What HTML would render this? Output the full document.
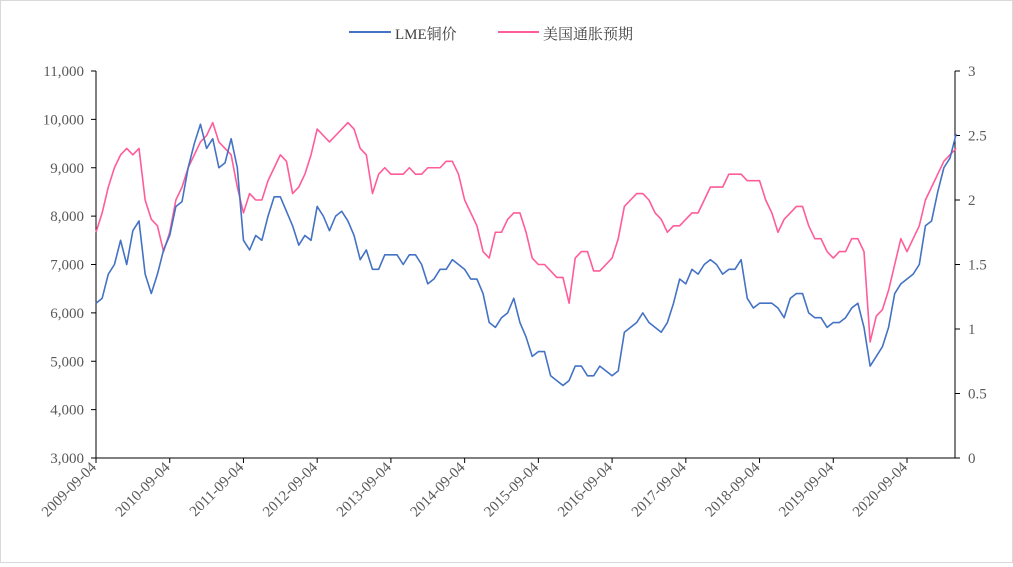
<!DOCTYPE html>
<html><head><meta charset="utf-8"><style>
body{margin:0;background:#fff}
#c{width:1011px;height:561px;border:1px solid #d9d9d9;position:relative;font-family:"Liberation Serif","Noto Serif CJK SC",serif}
text{font-family:"Liberation Serif","Noto Serif CJK SC",serif;fill:#595959;font-size:15px}
</style></head><body>
<div id="c">
<svg id="s" width="1011" height="561"></svg>
</div>
<script>
const startYear=2009,startMonth=9;
const xTickLabels=["2009-09-04","2010-09-04","2011-09-04","2012-09-04","2013-09-04","2014-09-04","2015-09-04","2016-09-04","2017-09-04","2018-09-04","2019-09-04","2020-09-04"];
const leftTicks=[3000,4000,5000,6000,7000,8000,9000,10000,11000];
const rightTicks=[0,0.5,1,1.5,2,2.5,3];
const copper=[6200,6300,6800,7000,
7500,7000,7700,7900,6800,6400,6800,7300,7600,8200,8300,9000,
9500,9900,9400,9600,9000,9100,9600,9000,7500,7300,7600,7500,
8000,8400,8400,8100,7800,7400,7600,7500,8200,8000,7700,8000,
8100,7900,7600,7100,7300,6900,6900,7200,7200,7200,7000,7200,
7200,7000,6600,6700,6900,6900,7100,7000,6900,6700,6700,6400,
5800,5700,5900,6000,6300,5800,5500,5100,5200,5200,4700,4600,
4500,4600,4900,4900,4700,4700,4900,4800,4700,4800,5600,5700,
5800,6000,5800,5700,5600,5800,6200,6700,6600,6900,6800,7000,
7100,7000,6800,6900,6900,7100,6300,6100,6200,6200,6200,6100,
5900,6300,6400,6400,6000,5900,5900,5700,5800,5800,5900,6100,
6200,5700,4900,5100,5300,5700,6400,6600,6700,6800,7000,7800,
7900,8500,9000,9200,9700];
const inflation=[1.75,1.9,2.1,2.25,
2.35,2.4,2.35,2.4,2.0,1.85,1.8,1.6,1.75,2.0,2.1,2.25,
2.35,2.45,2.5,2.6,2.45,2.4,2.35,2.1,1.9,2.05,2.0,2.0,
2.15,2.25,2.35,2.3,2.05,2.1,2.2,2.35,2.55,2.5,2.45,2.5,
2.55,2.6,2.55,2.4,2.35,2.05,2.2,2.25,2.2,2.2,2.2,2.25,
2.2,2.2,2.25,2.25,2.25,2.3,2.3,2.2,2.0,1.9,1.8,1.6,
1.55,1.75,1.75,1.85,1.9,1.9,1.75,1.55,1.5,1.5,1.45,1.4,
1.4,1.2,1.55,1.6,1.6,1.45,1.45,1.5,1.55,1.7,1.95,2.0,
2.05,2.05,2.0,1.9,1.85,1.75,1.8,1.8,1.85,1.9,1.9,2.0,
2.1,2.1,2.1,2.2,2.2,2.2,2.15,2.15,2.15,2.0,1.9,1.75,
1.85,1.9,1.95,1.95,1.8,1.7,1.7,1.6,1.55,1.6,1.6,1.7,
1.7,1.6,0.9,1.1,1.15,1.3,1.5,1.7,1.6,1.7,1.8,2.0,
2.1,2.2,2.3,2.35,2.4];
const X0=95,X1=954,Y0=457,Y1=70,monthPx=(906-95)/132;
const x=i=>X0+i*monthPx;
const yL=v=>Y0-(v-3000)/8000*(Y0-Y1);
const yR=v=>Y0-v/3*(Y0-Y1);
const s=document.getElementById('s'),NS='http://www.w3.org/2000/svg';
function mk(t,a,txt){const e=document.createElementNS(NS,t);for(const k in a)e.setAttribute(k,a[k]);if(txt!==undefined)e.textContent=txt;s.appendChild(e);return e;}
let e;
e=mk('line',{x1:X0,y1:Y1,x2:X0,y2:Y0,stroke:'#000','stroke-width':1});


e=mk('line',{x1:X1,y1:Y1,x2:X1,y2:Y0,stroke:'#000','stroke-width':1});


e=mk('line',{x1:X0,y1:Y0,x2:X1,y2:Y0,stroke:'#000','stroke-width':1});


leftTicks.forEach(v=>{const y=yL(v);
mk('line',{x1:X0-5,y1:y,x2:X0,y2:y,stroke:'#000'});
e=mk('text',{x:X0-12,y:y+5,'text-anchor':'end'},v.toLocaleString('en-US'));

});
rightTicks.forEach(v=>{const y=yR(v);
mk('line',{x1:X1,y1:y,x2:X1+5,y2:y,stroke:'#000'});
e=mk('text',{x:X1+13,y:y+5,'text-anchor':'start'},String(v));

});
xTickLabels.forEach((l,i)=>{const xx=x(i*12);
mk('line',{x1:xx,y1:Y0,x2:xx,y2:Y0+5,stroke:'#000'});
e=mk('text',{x:xx+1,y:Y0+10,'text-anchor':'end',transform:`rotate(-45 ${xx+1} ${Y0+10})`},l);

});
e=mk('polyline',{points:inflation.map((v,i)=>x(i)+','+yR(v)).join(' '),fill:'none',stroke:'#ff5c9a','stroke-width':1.6,'stroke-linejoin':'round'});


e=mk('polyline',{points:copper.map((v,i)=>x(i)+','+yL(v)).join(' '),fill:'none',stroke:'#4472c4','stroke-width':1.6,'stroke-linejoin':'round'});


mk('line',{x1:348,y1:31,x2:390,y2:31,stroke:'#4472c4','stroke-width':2});
e=mk('text',{x:394,y:38,'font-size':19,style:'fill:#404040'},'LME铜价');


mk('line',{x1:497,y1:31,x2:538,y2:31,stroke:'#ff5c9a','stroke-width':2});
e=mk('text',{x:542,y:38,'font-size':19,style:'fill:#404040'},'美国通胀预期');


</script>
</body></html>
